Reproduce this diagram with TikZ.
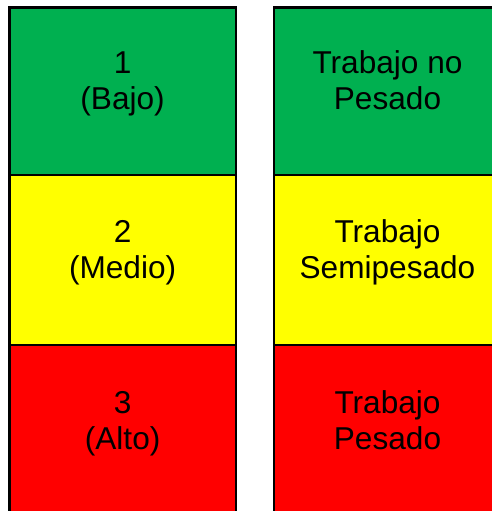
\documentclass[tikz,border=0pt]{standalone}
\usepackage{fontspec}
\setmainfont{Liberation Sans}
\definecolor{cgreen}{HTML}{00B050}
\definecolor{cyellow}{HTML}{FFFF00}
\definecolor{cred}{HTML}{FF0000}
\tikzset{
  cell/.style={draw=black, line width=2.6pt},
  lbl/.style={font=\fontsize{31.6}{35.6}\selectfont, align=center, inner sep=0pt, anchor=base}
}
\begin{document}
\begin{tikzpicture}[x=1pt,y=-1pt]
\useasboundingbox (0,0) rectangle (491,511);
% left column
\filldraw[cell, fill=cgreen]  (9.5,7.5) rectangle (235.8,174.8);
\filldraw[cell, fill=cyellow] (9.5,174.8) rectangle (235.8,344.8);
\filldraw[cell, fill=cred]    (9.5,344.8) rectangle (235.8,520);
% right column
\filldraw[cell, fill=cgreen]  (274,7.5) rectangle (501,174.8);
\filldraw[cell, fill=cyellow] (274,174.8) rectangle (501,344.8);
\filldraw[cell, fill=cred]    (274,344.8) rectangle (501,520);
% texts (anchor = baseline of the last line)
\node[lbl] (l1) at (122.6,109.5) {1\\(Bajo)};
\node[lbl] (l2) at (122.6,278) {2\\(Medio)};
\node[lbl] (l3) at (122.6,449) {3\\(Alto)};
\node[lbl] (r1) at (387.5,109.5) {Trabajo no\\Pesado};
\node[lbl] (r2) at (387.5,278) {Trabajo\\Semipesado};
\node[lbl] (r3) at (387.5,449) {Trabajo\\Pesado};
\end{tikzpicture}
\end{document}
